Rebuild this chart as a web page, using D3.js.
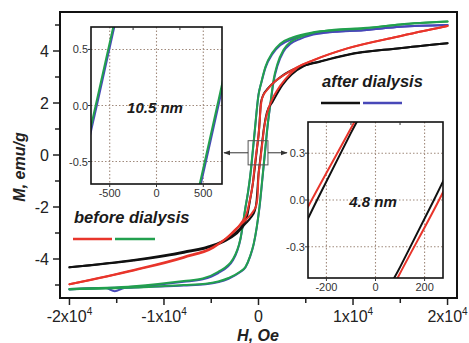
<!DOCTYPE html>
<html><head><meta charset="utf-8">
<script src="https://cdn.jsdelivr.net/npm/d3@7"></script>
<style>html,body{margin:0;padding:0;background:#fff;}svg{display:block;}</style>
</head><body>
<script>
// ---------- data (H in Oe, M in emu/g) ----------
const blackDesc = [[20000,4.30],[14700,4.10],[9400,3.85],[6500,3.59],[4100,3.35],[2800,3.12],[2000,2.90],[1000,2.56],[500,2.30],[250,2.00],[120,1.30],[0,0.74],[-100,0.43],[-238,0],[-400,-0.52],[-600,-1.10],[-900,-1.75],[-1200,-2.35],[-1700,-2.70],[-2400,-2.98],[-3500,-3.25],[-4800,-3.46],[-7900,-3.72],[-13200,-4.04],[-20000,-4.32]];
const blackAsc = [[-20000,-4.32],[-13200,-4.06],[-7900,-3.76],[-4800,-3.50],[-3500,-3.30],[-2400,-3.05],[-1400,-2.65],[-800,-2.40],[-400,-2.15],[-200,-1.75],[-90,-1.20],[0,-0.74],[100,-0.43],[238,0],[400,0.52],[600,1.10],[900,1.65],[1480,2.04],[2540,2.70],[3500,3.10],[4800,3.42],[6500,3.60],[9400,3.86],[14700,4.10],[20000,4.30]];
const redDesc = [[20000,4.96],[14700,4.55],[9400,4.10],[5800,3.65],[4100,3.38],[2800,3.10],[1800,2.85],[900,2.50],[400,2.20],[200,1.70],[80,1.05],[0,0.75],[-86,0.50],[-260,0],[-400,-0.42],[-600,-1.10],[-900,-1.70],[-1250,-2.25],[-1800,-2.60],[-2600,-2.95],[-3600,-3.25],[-4760,-3.53],[-7900,-3.92],[-13200,-4.42],[-20000,-4.97]];
const redAsc = [[-20000,-4.97],[-13200,-4.44],[-7900,-3.95],[-4760,-3.56],[-3500,-3.23],[-2400,-2.85],[-1370,-2.50],[-530,-2.15],[-250,-1.95],[-100,-1.60],[0,-0.78],[90,-0.50],[259,0],[400,0.45],[600,1.05],[900,1.60],[1400,2.10],[2000,2.50],[2800,2.90],[4100,3.36],[5800,3.64],[9400,4.10],[14700,4.55],[20000,4.96]];
const greenDesc = [[20000,5.13],[15000,5.02],[11100,4.87],[8000,4.80],[5800,4.72],[3600,4.52],[2300,4.28],[1500,3.95],[740,3.40],[300,2.80],[0,2.30],[-400,0.93],[-650,0],[-800,-0.55],[-1100,-1.40],[-1375,-2.00],[-1900,-3.20],[-2700,-4.00],[-4300,-4.50],[-5900,-4.75],[-7900,-4.85],[-13200,-5.05],[-20000,-5.15]];
const greenAsc = [[-20000,-5.17],[-13200,-5.10],[-7900,-5.00],[-5600,-4.95],[-3170,-4.73],[-2000,-4.50],[-1370,-4.30],[-900,-3.90],[-500,-3.40],[-200,-2.80],[100,-2.00],[400,-0.93],[650,0],[900,0.93],[1100,1.55],[1300,2.10],[1600,2.90],[2000,3.50],[2650,4.05],[3400,4.35],[4300,4.52],[5800,4.70],[8000,4.82],[11100,4.88],[15000,5.02],[20000,5.13]];
const blueDesc = [[20000,5.00],[15000,4.93],[11100,4.80],[8000,4.74],[5800,4.66],[3600,4.46],[2300,4.22],[1500,3.90],[740,3.36],[300,2.78],[0,2.33],[-390,0.93],[-638,0],[-790,-0.55],[-1090,-1.40],[-1370,-2.00],[-1900,-3.22],[-2700,-4.05],[-4300,-4.55],[-5900,-4.78],[-7900,-4.88],[-13200,-5.07],[-20000,-5.15]];
const blueAsc = [[-20000,-5.17],[-16200,-5.12],[-15200,-5.24],[-14200,-5.12],[-7900,-5.02],[-5600,-4.97],[-3170,-4.76],[-2000,-4.52],[-1370,-4.32],[-900,-3.92],[-500,-3.42],[-190,-2.80],[112,-2.00],[412,-0.93],[662,0],[912,0.93],[1110,1.55],[1310,2.08],[1610,2.85],[2000,3.42],[2650,3.98],[3400,4.28],[4300,4.45],[5800,4.63],[8000,4.74],[11100,4.80],[15000,4.93],[20000,5.00]];

const xTicks = [-20000,-10000,0,10000,20000];
const xTickBase = ["-2x10","-1x10","0","1x10","2x10"];
const xTickExp = ["4","4","","4","4"];
const xMinor = [-15000,-5000,5000,15000];
const yTicks = [-4,-2,0,2,4];
const yTickLabels = ["-4","-2","0","2","4"];
const yMinor = [-5,-3,-1,1,3,5];

const inset1XTicks = [-500,0,500];
const inset1XLabels = ["-500","0","500"];
const inset1YTicks = [-0.5,0,0.5];
const inset1YLabels = ["-0.5","0.0","0.5"];
const inset1Minor = [-250,250];
const inset2XTicks = [-200,0,200];
const inset2XLabels = ["-200","0","200"];
const inset2YTicks = [-0.3,0,0.3];
const inset2YLabels = ["-0.3","0.0","0.3"];
const inset2Minor = [-100,100];

const C = {black:"#111111", red:"#e8352b", blue:"#4848b8", green:"#22a04e"};
const FONT = "'Liberation Sans', Arial, sans-serif";

const W = 469, Hgt = 343;
const svg = d3.select("body").append("svg").attr("width",W).attr("height",Hgt)
  .style("font-family",FONT);
const defs = svg.append("defs");

// ---------- main scales ----------
const x = d3.scaleLinear().domain([-21000,21000]).range([60,457]);
const y = d3.scaleLinear().domain([-5.5,5.5]).range([298,12]);

defs.append("clipPath").attr("id","mainClip").append("rect")
  .attr("x",60).attr("y",12).attr("width",397).attr("height",286);

function sorted(a){ return a.slice().sort((p,q)=>p[0]-q[0]); }
function drawSeries(g, xs, ys, data, color, w){
  const line = d3.line().x(d=>xs(d[0])).y(d=>ys(d[1])).curve(d3.curveMonotoneX);
  g.append("path").attr("d",line(sorted(data))).attr("fill","none")
    .attr("stroke",color).attr("stroke-width",w).attr("stroke-linejoin","round").attr("stroke-linecap","round");
}

const main = svg.append("g").attr("clip-path","url(#mainClip)");
drawSeries(main,x,y,blueDesc,C.blue,2);
drawSeries(main,x,y,blueAsc,C.blue,2);
drawSeries(main,x,y,greenDesc,C.green,2);
drawSeries(main,x,y,greenAsc,C.green,2);
drawSeries(main,x,y,blackDesc,C.black,2);
drawSeries(main,x,y,blackAsc,C.black,2);
drawSeries(main,x,y,redDesc,C.red,2);
drawSeries(main,x,y,redAsc,C.red,2);

// frame
svg.append("rect").attr("x",60).attr("y",12).attr("width",397).attr("height",286)
  .attr("fill","none").attr("stroke","#111").attr("stroke-width",2);

// main axes
const ax = svg.append("g").attr("stroke","#222").attr("stroke-width",1.5);
xTicks.forEach(v=>ax.append("line").attr("x1",x(v)).attr("x2",x(v)).attr("y1",299).attr("y2",305));
xMinor.forEach(v=>ax.append("line").attr("x1",x(v)).attr("x2",x(v)).attr("y1",299).attr("y2",303));
yTicks.forEach(v=>ax.append("line").attr("x1",53).attr("x2",59).attr("y1",y(v)).attr("y2",y(v)));
yMinor.forEach(v=>ax.append("line").attr("x1",55).attr("x2",59).attr("y1",y(v)).attr("y2",y(v)));

xTicks.forEach((v,i)=>{
  const t = svg.append("text").attr("x",x(v)).attr("y",322).attr("text-anchor","middle")
    .attr("font-size",16).attr("fill","#222");
  t.append("tspan").text(xTickBase[i]);
  if(xTickExp[i]) t.append("tspan").attr("font-size",10).attr("dy",-7).text(xTickExp[i]);
});
yTicks.forEach((v,i)=>{
  svg.append("text").attr("x",49).attr("y",y(v)+5.5).attr("text-anchor","end")
    .attr("font-size",16).attr("fill","#222").text(yTickLabels[i]);
});

svg.append("text").attr("transform","translate(25,167) rotate(-90)").attr("text-anchor","middle")
  .attr("font-size",16).attr("font-weight","bold").attr("font-style","italic").attr("fill","#222")
  .text("M, emu/g");
svg.append("text").attr("x",258).attr("y",341).attr("text-anchor","middle")
  .attr("font-size",16).attr("font-weight","bold").attr("font-style","italic").attr("fill","#222")
  .text("H, Oe");

// ---------- zoom box & arrows ----------
defs.append("marker").attr("id","arr").attr("viewBox","0 0 10 10").attr("refX",9).attr("refY",5)
  .attr("markerWidth",7).attr("markerHeight",7).attr("orient","auto")
  .append("path").attr("d","M0,1.5 L10,5 L0,8.5 Z").attr("fill","#333");
svg.append("rect").attr("x",x(-1100)).attr("y",y(0.55)).attr("width",x(1000)-x(-1100)).attr("height",y(-0.38)-y(0.55))
  .attr("fill","none").attr("stroke","#555").attr("stroke-width",1);
const boxMidY = y((0.55-0.38)/2);
svg.append("line").attr("x1",x(-1100)).attr("x2",224).attr("y1",boxMidY).attr("y2",boxMidY)
  .attr("stroke","#333").attr("stroke-width",1).attr("marker-end","url(#arr)");
svg.append("line").attr("x1",x(1000)).attr("x2",287).attr("y1",boxMidY).attr("y2",boxMidY)
  .attr("stroke","#333").attr("stroke-width",1).attr("marker-end","url(#arr)");

// ---------- inset builder ----------
function inset(id, x0,x1,y0,y1, xd, yd, xt, xl, yt, yl, minor, series, label, lx, ly){
  const xs = d3.scaleLinear().domain(xd).range([x0,x1]);
  const ys = d3.scaleLinear().domain(yd).range([y1,y0]);
  const g = svg.append("g");
  g.append("rect").attr("x",x0).attr("y",y0).attr("width",x1-x0).attr("height",y1-y0).attr("fill","#fff");
  const grid = g.append("g").attr("stroke","#a08a7c").attr("stroke-width",1.1).attr("stroke-dasharray","1.5,2");
  xt.forEach(v=>grid.append("line").attr("x1",xs(v)).attr("x2",xs(v)).attr("y1",y0).attr("y2",y1));
  yt.forEach(v=>grid.append("line").attr("x1",x0).attr("x2",x1).attr("y1",ys(v)).attr("y2",ys(v)));
  defs.append("clipPath").attr("id",id).append("rect").attr("x",x0).attr("y",y0).attr("width",x1-x0).attr("height",y1-y0);
  const cg = g.append("g").attr("clip-path",`url(#${id})`);
  series.forEach(s=>drawSeries(cg,xs,ys,s[0],s[1],2));
  g.append("rect").attr("x",x0).attr("y",y0).attr("width",x1-x0).attr("height",y1-y0)
    .attr("fill","none").attr("stroke","#111").attr("stroke-width",1.6);
  const tk = g.append("g").attr("stroke","#333").attr("stroke-width",1);
  xt.forEach(v=>tk.append("line").attr("x1",xs(v)).attr("x2",xs(v)).attr("y1",y1).attr("y2",y1+3));
  yt.forEach(v=>tk.append("line").attr("x1",x0-3).attr("x2",x0).attr("y1",ys(v)).attr("y2",ys(v)));
  minor.forEach(v=>tk.append("line").attr("x1",xs(v)).attr("x2",xs(v)).attr("y1",y0).attr("y2",y0+3));
  xt.forEach((v,i)=>g.append("text").attr("x",xs(v)).attr("y",y1+13).attr("text-anchor","middle")
    .attr("font-size",11).attr("fill","#333").text(xl[i]));
  yt.forEach((v,i)=>g.append("text").attr("x",x0-3).attr("y",ys(v)+4).attr("text-anchor","end")
    .attr("font-size",11).attr("fill","#333").text(yl[i]));
  g.append("text").attr("x",lx).attr("y",ly).attr("text-anchor","middle")
    .attr("font-size",15).attr("font-weight","bold").attr("font-style","italic").attr("fill","#1a1a1a").text(label);
}

inset("in1", 91,222,27,184, [-700,700],[-0.7,0.7], inset1XTicks,inset1XLabels, inset1YTicks,inset1YLabels, inset1Minor,
  [[blueDesc,C.blue],[blueAsc,C.blue],[greenDesc,C.green],[greenAsc,C.green]], "10.5 nm", 155, 113);
inset("in2", 308,443,122,278, [-275,275],[-0.5,0.5], inset2XTicks,inset2XLabels, inset2YTicks,inset2YLabels, inset2Minor,
  [[blackDesc,C.black],[blackAsc,C.black],[redDesc,C.red],[redAsc,C.red]], "4.8 nm", 373, 207);

// ---------- legends ----------
function legend(txt, tx, ty, items){
  svg.append("text").attr("x",tx).attr("y",ty).attr("font-size",16.5).attr("font-weight","bold")
    .attr("font-style","italic").attr("fill","#1a1a1a").text(txt);
  items.forEach(it=>svg.append("line").attr("x1",it[0]).attr("x2",it[1]).attr("y1",it[3]).attr("y2",it[3])
    .attr("stroke",it[2]).attr("stroke-width",2.5));
}
legend("after dialysis", 322, 87, [[321,360,C.black,103],[363,402,C.blue,103]]);
legend("before dialysis", 74, 223, [[73,112,C.red,239],[115,155,C.green,239]]);
</script>
</body></html>
